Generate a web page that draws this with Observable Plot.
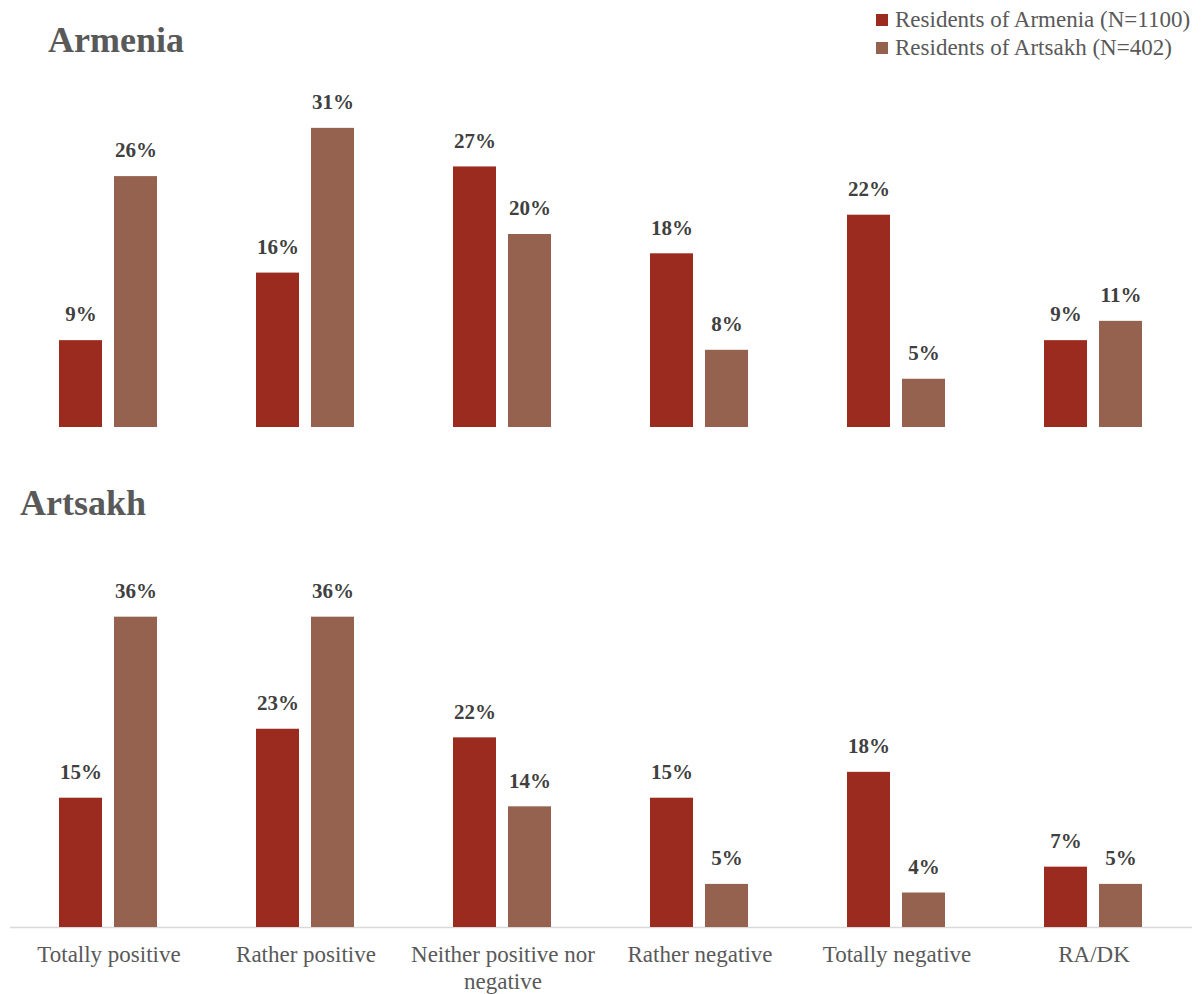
<!DOCTYPE html>
<html><head><meta charset="utf-8">
<script src="https://cdn.jsdelivr.net/npm/d3@7"></script>
<script src="https://cdn.jsdelivr.net/npm/@observablehq/plot@0.6"></script>
<style>
body{margin:0;background:#fff;font-family:"Liberation Serif",serif;}
#wrap{position:relative;width:1204px;height:994px;overflow:hidden;}
.title{position:absolute;font-weight:bold;font-size:36px;color:#595959;line-height:1;}
.legend{position:absolute;left:876px;top:6px;font-size:23px;color:#595959;line-height:28px;white-space:nowrap;}
.legend .sw{display:inline-block;width:12px;height:12px;margin-right:7px;vertical-align:1px;}
.panel{position:absolute;left:0;}
</style></head>
<body><div id="wrap"></div>
<script>
const categories = ["Totally positive","Rather positive","Neither positive nor negative","Rather negative","Totally negative","RA/DK"];
const tickLabels = ["Totally positive","Rather positive","Neither positive nor\nnegative","Rather negative","Totally negative","RA/DK"];
const series = ["Residents of Armenia (N=1100)","Residents of Artsakh (N=402)"];
const colors = ["#9b2b1f","#956250"];
// Panel "Armenia"
const armeniaResArmenia = [9,16,27,18,22,9];
const armeniaResArtsakh = [26,31,20,8,5,11];
// Panel "Artsakh"
const artsakhResArmenia = [15,23,22,15,18,7];
const artsakhResArtsakh = [36,36,14,5,4,5];

const wrap = document.getElementById("wrap");
const font = '"Liberation Serif", serif';

function rows(a, b) {
  const out = [];
  categories.forEach((c, i) => {
    out.push({cat: c, series: series[0], value: a[i]});
    out.push({cat: c, series: series[1], value: b[i]});
  });
  return out;
}

function panel(data, {height, marginBottom, yMax, axis}) {
  const marks = [
    Plot.barY(data, {fx: "cat", x: "series", y: "value", fill: "series"}),
    Plot.text(data, {fx: "cat", x: "series", y: "value", text: d => d.value + "%",
      dy: -26, fontWeight: "bold", fontSize: 21, fill: "#404040"})
  ];
  if (axis) {
    marks.unshift(Plot.ruleY([0], {stroke: "#d9d9d9", strokeWidth: 1.5}));
    marks.push(Plot.axisFx({anchor: "bottom", tickSize: 0, tickPadding: 16, fontSize: 23,
      fill: "#595959", lineHeight: 1.15, label: null,
      tickFormat: d => tickLabels[categories.indexOf(d)]}));
  }
  return Plot.plot({
    width: 1204, height,
    marginLeft: 10, marginRight: 12, marginTop: 0, marginBottom,
    style: {fontFamily: font, background: "transparent", overflow: "visible"},
    fx: {domain: categories, padding: 0, axis: axis ? undefined : null},
    x: {domain: series, paddingInner: 0.214, paddingOuter: 0.866, axis: null},
    y: {domain: [0, yMax], axis: null},
    color: {domain: series, range: colors},
    marks
  });
}

const top1 = panel(rows(armeniaResArmenia, armeniaResArtsakh), {height: 380, marginBottom: 13, yMax: 367 / 9.65, axis: false});
top1.classList.add("panel"); top1.style.top = "60px";
wrap.appendChild(top1);

const bot = panel(rows(artsakhResArmenia, artsakhResArtsakh), {height: 454, marginBottom: 67, yMax: 387 / 8.62, axis: true});
bot.classList.add("panel"); bot.style.top = "540px";
wrap.appendChild(bot);

const t1 = document.createElement("div");
t1.className = "title"; t1.textContent = "Armenia";
t1.style.left = "48px"; t1.style.top = "22px";
wrap.appendChild(t1);
const t2 = document.createElement("div");
t2.className = "title"; t2.textContent = "Artsakh";
t2.style.left = "20px"; t2.style.top = "485px";
wrap.appendChild(t2);

const lg = document.createElement("div");
lg.className = "legend";
series.forEach((s, i) => {
  const row = document.createElement("div");
  const sw = document.createElement("span");
  sw.className = "sw"; sw.style.background = colors[i];
  row.appendChild(sw);
  row.appendChild(document.createTextNode(s));
  lg.appendChild(row);
});
wrap.appendChild(lg);
</script>
</body></html>
